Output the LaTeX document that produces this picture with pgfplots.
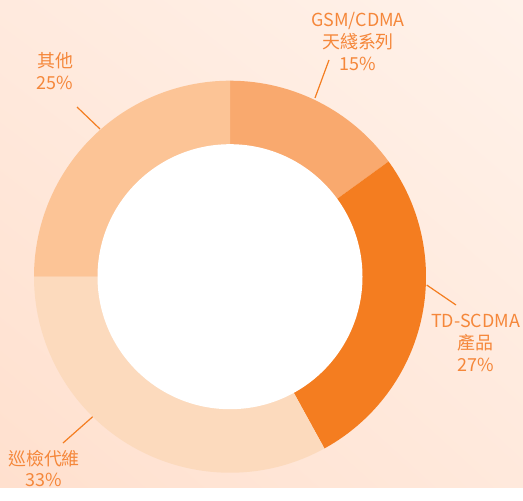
\documentclass[border=0pt]{standalone}
\usepackage{pgfplots}
\usepackage{pgfplotstable}
\pgfplotsset{compat=1.18}
\usetikzlibrary{shadings}
\usepackage{fontspec}
\setmainfont{Noto Sans CJK TC}
\definecolor{cGSM}{HTML}{F9A96E}
\definecolor{cTD}{HTML}{F47D20}
\definecolor{cXJ}{HTML}{FCDABD}
\definecolor{cQT}{HTML}{FCC496}
\definecolor{txt}{HTML}{F5873A}
\definecolor{bgUL}{HTML}{FFEADE}
\definecolor{bgUR}{HTML}{FFF2EA}
\definecolor{bgLL}{HTML}{FFE0CE}
\definecolor{bgLR}{HTML}{FFE9DC}
\pgfplotstableread{
name value
GSM 15
TD 27
XJ 33
QT 25
}\shares
\pgfplotstablegetelem{0}{value}\of\shares\let\vA\pgfplotsretval
\pgfplotstablegetelem{1}{value}\of\shares\let\vB\pgfplotsretval
\pgfplotstablegetelem{2}{value}\of\shares\let\vC\pgfplotsretval
\pgfplotstablegetelem{3}{value}\of\shares\let\vD\pgfplotsretval
\pgfmathsetmacro\aA{90}
\pgfmathsetmacro\aB{\aA-3.6*\vA}
\pgfmathsetmacro\aC{\aB-3.6*\vB}
\pgfmathsetmacro\aD{\aC-3.6*\vC}
\pgfmathsetmacro\aE{\aD-3.6*\vD}
\newcommand\seg[3]{%
  \fill[#3] (axis cs:230,210.3) ++(#1:196bp) arc[start angle=#1,end angle=#2,radius=196bp]
    -- ++(#2:-64bp) arc[start angle=#2,end angle=#1,radius=132bp] -- cycle;}
\begin{document}
\begin{tikzpicture}
\begin{axis}[width=523bp,height=487bp,scale only axis,hide axis,
  xmin=0,xmax=523,ymin=0,ymax=487,clip=false]
\shade[upper left=bgUL,upper right=bgUR,lower left=bgLL,lower right=bgLR]
  (axis cs:0,0) rectangle (axis cs:523,487);
\seg{\aA}{\aB}{cGSM}
\seg{\aB}{\aC}{cTD}
\seg{\aC}{\aD}{cXJ}
\seg{\aD}{\aE}{cQT}
\fill[white] (axis cs:230,210.3) circle[radius=132.5bp];
\draw[cTD,line width=1.2bp] (axis cs:315,389) -- (axis cs:329,427);
\draw[cTD,line width=1.2bp] (axis cs:426.7,202) -- (axis cs:456,182);
\draw[cTD,line width=1.2bp] (axis cs:92.7,70.3) -- (axis cs:63,44);
\draw[cTD,line width=1.2bp] (axis cs:100,358) -- (axis cs:77,380);
\begin{scope}[every node/.style={text=txt,font=\fontsize{18}{22}\selectfont,align=center,inner sep=0pt}]
\node at (axis cs:358,445.3) {GSM/CDMA\\天綫系列\\\vA\%};
\node at (axis cs:475.5,143.7) {TD-SCDMA\\產品\\\vB\%};
\node at (axis cs:44,18.5) {巡檢代維\\\vC\%};
\node at (axis cs:55,416) {其他\\\vD\%};
\end{scope}
\end{axis}
\end{tikzpicture}
\end{document}
